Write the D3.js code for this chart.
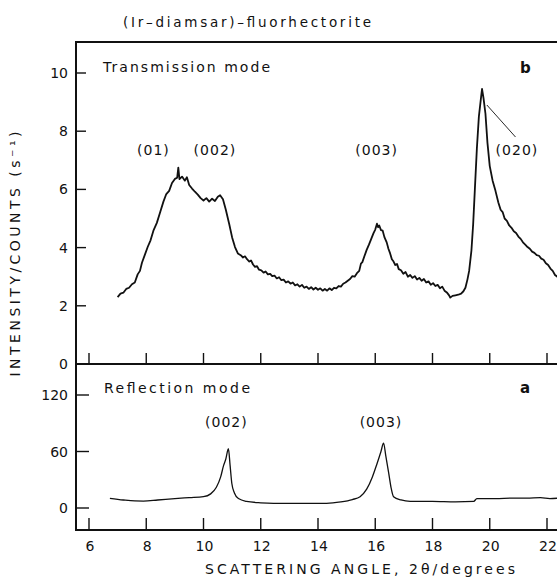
<!DOCTYPE html>
<html>
<head>
<meta charset="utf-8">
<script src="https://cdn.jsdelivr.net/npm/d3@7"></script>
<style>
  body { margin: 0; background: #fff; }
  svg { display: block; }
  text { font-family: "DejaVu Sans", sans-serif; fill: #111; }
</style>
</head>
<body>
<svg id="chart" width="557" height="578"></svg>
<script>
// transmission mode trace (b), counts per second
var transAngle = [
  7.00, 7.10, 7.20, 7.30, 7.40, 7.50, 7.60, 7.70, 7.78, 7.85,
  7.95, 8.05, 8.15, 8.25, 8.37, 8.48, 8.60, 8.70, 8.80, 8.90,
  9.00, 9.08, 9.12, 9.16, 9.25, 9.35, 9.42, 9.50, 9.60, 9.70,
  9.80, 9.90, 10.00, 10.10, 10.20, 10.30, 10.40, 10.50, 10.58, 10.68,
  10.78, 10.90, 11.00, 11.10, 11.20, 11.30, 11.38, 11.45, 11.52, 11.60,
  11.66, 11.73, 11.80, 11.87, 11.94, 12.02, 12.10, 12.17, 12.25, 12.33,
  12.40, 12.48, 12.56, 12.64, 12.72, 12.80, 12.88, 12.96, 13.04, 13.12,
  13.20, 13.28, 13.36, 13.44, 13.52, 13.60, 13.68, 13.76, 13.84, 13.92,
  14.00, 14.08, 14.16, 14.24, 14.32, 14.40, 14.48, 14.56, 14.64, 14.72,
  14.80, 14.88, 14.96, 15.04, 15.12, 15.20, 15.28, 15.36, 15.44, 15.50,
  15.55, 15.62, 15.70, 15.78, 15.86, 15.94, 16.00, 16.06, 16.10, 16.14,
  16.20, 16.26, 16.32, 16.40, 16.46, 16.52, 16.58, 16.64, 16.70, 16.76,
  16.82, 16.90, 16.98, 17.06, 17.14, 17.22, 17.30, 17.38, 17.46, 17.54,
  17.62, 17.70, 17.78, 17.86, 17.94, 18.02, 18.10, 18.18, 18.26, 18.34,
  18.42, 18.50, 18.58, 18.62, 18.70, 18.80, 18.90, 19.00, 19.08, 19.15,
  19.22, 19.28, 19.36, 19.42, 19.48, 19.55, 19.62, 19.70, 19.73, 19.78,
  19.85, 19.92, 20.00, 20.10, 20.20, 20.30, 20.38, 20.45, 20.52, 20.60,
  20.68, 20.76, 20.84, 20.92, 21.00, 21.08, 21.16, 21.24, 21.32, 21.40,
  21.48, 21.56, 21.64, 21.72, 21.80, 21.88, 21.96, 22.04, 22.12, 22.20,
  22.28, 22.36, 22.44];
var transCounts = [
  2.30, 2.42, 2.45, 2.58, 2.62, 2.74, 2.80, 3.08, 3.20, 3.48,
  3.75, 4.02, 4.25, 4.58, 4.85, 5.20, 5.58, 5.84, 5.95, 6.22,
  6.36, 6.40, 6.75, 6.35, 6.44, 6.30, 6.42, 6.15, 6.03, 5.92,
  5.82, 5.70, 5.62, 5.70, 5.58, 5.68, 5.60, 5.75, 5.80, 5.66,
  5.30, 4.80, 4.35, 4.02, 3.80, 3.74, 3.66, 3.70, 3.60, 3.52,
  3.56, 3.42, 3.34, 3.36, 3.24, 3.22, 3.14, 3.18, 3.08, 3.10,
  3.02, 3.04, 2.94, 2.98, 2.88, 2.90, 2.80, 2.84, 2.76, 2.80,
  2.70, 2.74, 2.66, 2.72, 2.62, 2.66, 2.58, 2.64, 2.56, 2.62,
  2.55, 2.60, 2.52, 2.58, 2.52, 2.60, 2.54, 2.62, 2.60, 2.68,
  2.66, 2.76, 2.80, 2.86, 2.92, 3.02, 3.00, 3.12, 3.20, 3.45,
  3.50, 3.70, 3.92, 4.10, 4.30, 4.50, 4.62, 4.82, 4.70, 4.76,
  4.60, 4.58, 4.36, 4.18, 3.96, 3.80, 3.60, 3.52, 3.40, 3.44,
  3.26, 3.22, 3.10, 3.16, 3.00, 3.06, 2.96, 3.02, 2.90, 2.96,
  2.86, 2.92, 2.80, 2.84, 2.72, 2.78, 2.68, 2.72, 2.60, 2.66,
  2.52, 2.46, 2.36, 2.28, 2.34, 2.36, 2.38, 2.42, 2.50, 2.62,
  2.90, 3.20, 3.90, 4.80, 6.00, 7.40, 8.50, 9.20, 9.45, 9.15,
  8.60, 7.60, 6.80, 6.30, 5.95, 5.55, 5.30, 5.22, 5.00, 4.92,
  4.76, 4.68, 4.56, 4.50, 4.38, 4.30, 4.18, 4.10, 4.02, 3.96,
  3.86, 3.82, 3.74, 3.72, 3.62, 3.58, 3.46, 3.40, 3.28, 3.20,
  3.06, 3.00, 2.90];

// reflection mode trace (a)
var reflAngle = [6.73, 7.2, 7.6, 7.9, 8.4, 9.0, 9.5, 10.0, 10.25, 10.45, 10.6, 10.7, 10.78, 10.87, 10.93, 10.99,
  11.08, 11.22, 11.5, 12.0, 12.45, 13.0, 13.5, 14.3, 14.8, 15.2, 15.47, 15.7, 15.9, 16.05, 16.2, 16.29,
  16.37, 16.47, 16.55, 16.64, 16.9, 17.22, 18.0, 18.8, 19.44, 19.55, 19.67, 20.2, 20.8, 21.3, 21.77, 22.1, 22.4];
var reflCounts = [10.3, 8.5, 7.5, 7.4, 8.5, 10, 11, 12, 15, 22, 33, 45, 52, 63, 45, 26,
  16, 10, 7, 5.5, 5, 5, 5, 5, 6.5, 9, 12, 20, 33, 46, 60, 69,
  55, 37, 22, 12, 8.5, 7, 7, 6.5, 7, 10, 10, 10, 10.5, 10.5, 11, 10, 10.5];

var xTicks = [6, 8, 10, 12, 14, 16, 18, 20, 22];
var topTicks = [0, 2, 4, 6, 8, 10];
var botTicks = [0, 60, 120];

var topPeaks = [
  {label: "(01)", angle: 8.25},
  {label: "(002)", angle: 10.4},
  {label: "(003)", angle: 16.05},
  {label: "(020)", angle: 20.95}
];
var botPeaks = [
  {label: "(002)", angle: 10.8},
  {label: "(003)", angle: 16.2}
];

var svg = d3.select("#chart");

var x = d3.scaleLinear().domain([6, 22]).range([89, 547]);
var yTop = d3.scaleLinear().domain([0, 10]).range([364, 73]);
var yBot = d3.scaleLinear().domain([0, 120]).range([508, 395]);

var fLeft = 76, fRight = 560, fTop = 42, fMid = 364, fBottom = 530;

// clip so the traces are cut at the right edge like the scan
svg.append("defs").append("clipPath").attr("id", "clip")
  .append("rect").attr("x", fLeft).attr("y", fTop)
  .attr("width", fRight - fLeft).attr("height", fBottom - fTop);

// frame
var frame = svg.append("g").attr("stroke", "#111").attr("fill", "none");
frame.append("line").attr("x1", fLeft - 1).attr("x2", fRight).attr("y1", fTop).attr("y2", fTop).attr("stroke-width", 2);
frame.append("line").attr("x1", fLeft).attr("x2", fLeft).attr("y1", fTop).attr("y2", fBottom + 1).attr("stroke-width", 2);
frame.append("line").attr("x1", fLeft).attr("x2", fRight).attr("y1", fMid).attr("y2", fMid).attr("stroke-width", 2);
frame.append("line").attr("x1", fLeft).attr("x2", fRight).attr("y1", fBottom).attr("y2", fBottom).attr("stroke-width", 2.2);

// x ticks, pointing up from each panel base
[[fMid, 11], [fBottom, 12]].forEach(function(p) {
  frame.selectAll(null).data(xTicks).enter().append("line")
    .attr("x1", function(d) { return x(d); })
    .attr("x2", function(d) { return x(d); })
    .attr("y1", p[0]).attr("y2", p[0] - p[1])
    .attr("stroke-width", 1.4);
});

// y ticks, inward
frame.selectAll(null).data(topTicks.filter(function(d) { return d > 0; })).enter().append("line")
  .attr("x1", fLeft).attr("x2", fLeft + 10)
  .attr("y1", function(d) { return yTop(d); })
  .attr("y2", function(d) { return yTop(d); })
  .attr("stroke-width", 1.4);
frame.selectAll(null).data(botTicks).enter().append("line")
  .attr("x1", fLeft).attr("x2", fLeft + 13)
  .attr("y1", function(d) { return yBot(d); })
  .attr("y2", function(d) { return yBot(d); })
  .attr("stroke-width", 1.4);

// tick labels
svg.selectAll(null).data(topTicks).enter().append("text")
  .attr("x", 68).attr("y", function(d) { return yTop(d) + 5; })
  .attr("text-anchor", "end").attr("font-size", 14)
  .text(function(d) { return d; });
svg.selectAll(null).data(botTicks).enter().append("text")
  .attr("x", 68).attr("y", function(d) { return yBot(d) + 5; })
  .attr("text-anchor", "end").attr("font-size", 14)
  .text(function(d) { return d; });
svg.selectAll(null).data(xTicks).enter().append("text")
  .attr("x", function(d) { return x(d) + 1; }).attr("y", 551)
  .attr("text-anchor", "middle").attr("font-size", 14)
  .text(function(d) { return d; });

// traces
var lineTop = d3.line()
  .x(function(d, i) { return x(transAngle[i]); })
  .y(function(d) { return yTop(d); });
var lineBot = d3.line()
  .x(function(d, i) { return x(reflAngle[i]); })
  .y(function(d) { return yBot(d); })
  .curve(d3.curveMonotoneX);

svg.append("path").datum(transCounts)
  .attr("clip-path", "url(#clip)")
  .attr("d", lineTop)
  .attr("fill", "none").attr("stroke", "#111")
  .attr("stroke-width", 1.8).attr("stroke-linejoin", "round");
svg.append("path").datum(reflCounts)
  .attr("clip-path", "url(#clip)")
  .attr("d", lineBot)
  .attr("fill", "none").attr("stroke", "#111")
  .attr("stroke-width", 1.3).attr("stroke-linejoin", "round");

// peak labels
svg.selectAll(null).data(topPeaks).enter().append("text")
  .attr("x", function(d) { return x(d.angle); }).attr("y", 155)
  .attr("text-anchor", "middle").attr("font-size", 14)
  .attr("letter-spacing", 1)
  .text(function(d) { return d.label; });
svg.selectAll(null).data(botPeaks).enter().append("text")
  .attr("x", function(d) { return x(d.angle); }).attr("y", 427)
  .attr("text-anchor", "middle").attr("font-size", 14)
  .attr("letter-spacing", 1)
  .text(function(d) { return d.label; });

// leader from (020) label to its peak
svg.append("line")
  .attr("x1", x(19.9)).attr("y1", yTop(8.9))
  .attr("x2", x(20.9)).attr("y2", yTop(7.8))
  .attr("stroke", "#111").attr("stroke-width", 0.9);

// panel captions
svg.append("text").attr("x", 103).attr("y", 72).attr("font-size", 14)
  .attr("textLength", 167).attr("lengthAdjust", "spacing").text("Transmission mode");
svg.append("text").attr("x", 520).attr("y", 73).attr("font-size", 15).attr("font-weight", "bold").text("b");
svg.append("text").attr("x", 104).attr("y", 393).attr("font-size", 14)
  .attr("textLength", 146).attr("lengthAdjust", "spacing").text("Reflection mode");
svg.append("text").attr("x", 520).attr("y", 393).attr("font-size", 15).attr("font-weight", "bold").text("a");

// title
svg.append("text").attr("x", 123).attr("y", 27).attr("font-size", 13.5)
  .attr("textLength", 248).attr("lengthAdjust", "spacing").text("(Ir\u2013diamsar)\u2013fluorhectorite");

// axis titles
svg.append("text").attr("x", 205).attr("y", 574).attr("font-size", 14)
  .attr("textLength", 310).attr("lengthAdjust", "spacing").text("SCATTERING ANGLE, 2\u03B8/degrees");
svg.append("text")
  .attr("transform", "translate(20,254) rotate(-90)")
  .attr("text-anchor", "middle").attr("font-size", 14)
  .attr("textLength", 245).attr("lengthAdjust", "spacing")
  .text("INTENSITY/COUNTS (s\u207B\u00B9)");
</script>
</body>
</html>
